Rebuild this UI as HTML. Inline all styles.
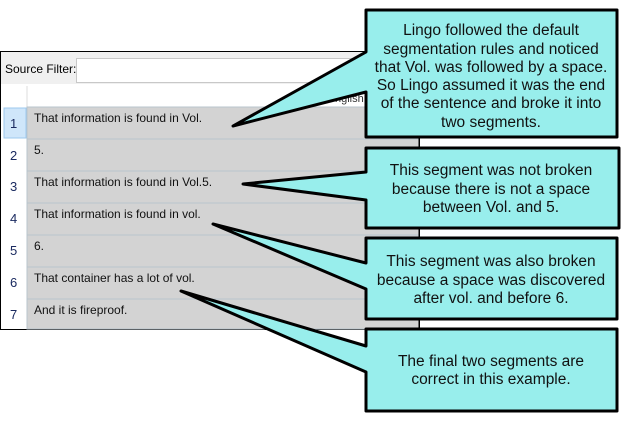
<!DOCTYPE html>
<html><head><style>
body{margin:0;background:#fff;}
svg{display:block;font-family:"Liberation Sans",Arial,sans-serif;}
</style></head><body>
<svg width="630" height="422" viewBox="0 0 630 422">
<!-- window -->
<rect x="0.5" y="51.5" width="419" height="278" fill="#fff" stroke="#000"/>
<rect x="1" y="52" width="418" height="32" fill="#f0f0f0"/>
<text x="5" y="73" font-size="12" fill="#000">Source Filter:</text>
<rect x="76.5" y="58.5" width="340" height="24" fill="#fff" stroke="#c8c8c8"/>
<rect x="1" y="86" width="418" height="21" fill="#fff"/>
<line x1="27" y1="86" x2="27" y2="107" stroke="#ddd"/>
<text x="335" y="102" font-size="11" fill="#333">nglish</text>
<rect x="1" y="107" width="26" height="222" fill="#fff"/>
<rect x="4" y="108" width="22" height="30" fill="#cfe6fa" stroke="#9cc8ee"/>
<g fill="#d3d3d3" stroke="#b8c4cc">
<rect x="27" y="107" width="392" height="32"/><rect x="27" y="139" width="392" height="32"/>
<rect x="27" y="171" width="392" height="32"/><rect x="27" y="203" width="392" height="32"/>
<rect x="27" y="235" width="392" height="32"/><rect x="27" y="267" width="392" height="32"/>
<rect x="27" y="299" width="392" height="30"/>
</g>
<g font-size="13" fill="#1a2a60">
<text x="10" y="128">1</text><text x="10" y="160">2</text><text x="10" y="191">3</text>
<text x="10" y="223">4</text><text x="10" y="255">5</text><text x="10" y="287">6</text><text x="10" y="319">7</text>
</g>
<g font-size="12" fill="#111">
<text x="34" y="122">That information is found in Vol.</text>
<text x="34" y="154">5.</text>
<text x="34" y="186">That information is found in Vol.5.</text>
<text x="34" y="218">That information is found in vol.</text>
<text x="34" y="250">6.</text>
<text x="34" y="282">That container has a lot of vol.</text>
<text x="34" y="314">And it is fireproof.</text>
</g>
<line x1="419" y1="138" x2="419" y2="148" stroke="#000"/>
<line x1="419" y1="229" x2="419" y2="238" stroke="#000"/>
<line x1="419" y1="320" x2="419" y2="328" stroke="#000"/>
<!-- callouts -->
<g fill="#98eeec" stroke="#000" stroke-width="3" stroke-linejoin="round">
<path d="M366,10 H617 V137 H366 V92 L233,126 L366,52 Z"/>
<path d="M366,148 H619 V228 H366 V200 L243,184 L366,172 Z"/>
<path d="M366,238 H617 V319 H366 V289 L213,224 L366,263 Z"/>
<path d="M366,329 H617 V411 H366 V372 L181,291 L366,346 Z"/>
</g>
<g font-size="15.5" fill="#111" text-anchor="middle">
<text x="491" y="35">Lingo followed the default</text>
<text x="491" y="54">segmentation rules and noticed</text>
<text x="491" y="72">that Vol. was followed by a space.</text>
<text x="491" y="90">So Lingo assumed it was the end</text>
<text x="491" y="108">of the sentence and broke it into</text>
<text x="491" y="127">two segments.</text>
<text x="491" y="175">This segment was not broken</text>
<text x="491" y="194">because there is not a space</text>
<text x="491" y="212">between Vol. and 5.</text>
<text x="491" y="266">This segment was also broken</text>
<text x="491" y="285">because a space was discovered</text>
<text x="491" y="303">after vol. and before 6.</text>
<text x="491" y="366">The final two segments are</text>
<text x="491" y="384">correct in this example.</text>
</g>
</svg>
</body></html>
